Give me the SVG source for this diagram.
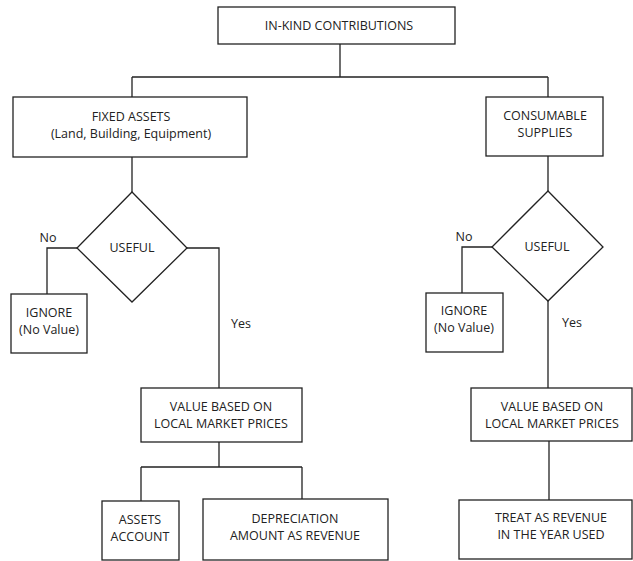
<svg xmlns="http://www.w3.org/2000/svg" width="633" height="561" viewBox="0 0 633 561">
<style>
.box{fill:#fff;stroke:#222;stroke-width:1.3}
.ln{fill:none;stroke:#222;stroke-width:1.3}
text{font-family:"Open Sans","Noto Sans",sans-serif;font-size:12.5px;fill:#222;text-anchor:middle}
</style>
<rect width="633" height="561" fill="#fff"/>
<g id="connectors">
<path class="ln" d="M340,44V77M132,77H548M132,77V97M548,77V97"/>
<path class="ln" d="M132,157V192M548,156V191"/>
<path class="ln" d="M77,248H47V294M187,248H219V388"/>
<path class="ln" d="M492,247H462V293M548,301V388"/>
<path class="ln" d="M219,442V467M141,467H302M141,467V501M302,467V499"/>
<path class="ln" d="M549,441V500"/>
</g>
<g id="in-kind"><rect class="box" x="218" y="7" width="237" height="37"/><text x="339" y="30">IN-KIND CONTRIBUTIONS</text></g>
<g id="fixed-assets"><rect class="box" x="13" y="97" width="234" height="60"/><text x="131" y="120.5">FIXED ASSETS</text><text x="131" y="137.5">(Land, Building, Equipment)</text></g>
<g id="consumable"><rect class="box" x="486" y="97" width="117" height="59"/><text x="545" y="119.5">CONSUMABLE</text><text x="545" y="136.5">SUPPLIES</text></g>
<g id="useful-left"><polygon class="box" points="132,192 187,248 132,302 77,248"/><text x="132" y="252">USEFUL</text></g>
<g id="useful-right"><polygon class="box" points="548,191 603,247 548,301 492,247"/><text x="547" y="251">USEFUL</text></g>
<g id="labels"><text x="48" y="242">No</text><text x="241" y="328">Yes</text><text x="464" y="241">No</text><text x="572" y="327">Yes</text></g>
<g id="ignore-left"><rect class="box" x="11" y="294" width="76" height="59"/><text x="49" y="316.5">IGNORE</text><text x="49" y="333.5">(No Value)</text></g>
<g id="ignore-right"><rect class="box" x="426" y="293" width="77" height="59"/><text x="464" y="315">IGNORE</text><text x="464" y="332">(No Value)</text></g>
<g id="value-left"><rect class="box" x="141" y="388" width="161" height="54"/><text x="221" y="410.5">VALUE BASED ON</text><text x="221" y="427.5">LOCAL MARKET PRICES</text></g>
<g id="value-right"><rect class="box" x="471" y="388" width="161" height="53"/><text x="552" y="410.5">VALUE BASED ON</text><text x="552" y="427.5">LOCAL MARKET PRICES</text></g>
<g id="assets-account"><rect class="box" x="102" y="501" width="77" height="59"/><text x="140" y="524">ASSETS</text><text x="140" y="541">ACCOUNT</text></g>
<g id="depreciation"><rect class="box" x="203" y="499" width="185" height="61"/><text x="295" y="523">DEPRECIATION</text><text x="295" y="540">AMOUNT AS REVENUE</text></g>
<g id="treat"><rect class="box" x="459" y="500" width="173" height="59"/><text x="551" y="522">TREAT AS REVENUE</text><text x="551" y="539">IN THE YEAR USED</text></g>
</svg>
